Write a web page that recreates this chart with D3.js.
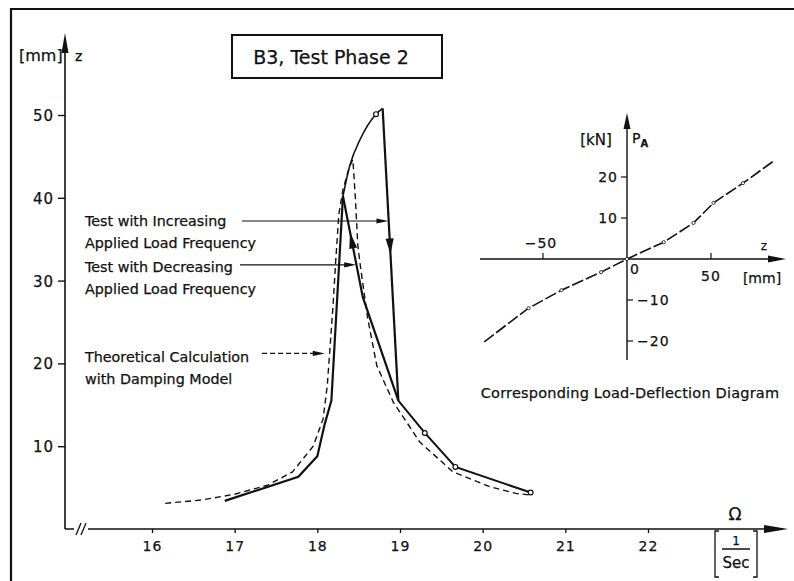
<!DOCTYPE html>
<html>
<head>
<meta charset="utf-8">
<script src="https://cdn.jsdelivr.net/npm/d3@7"></script>
<style>
  body { margin: 0; background: #fff; }
  svg { display: block; }
  text { font-family: "DejaVu Sans", sans-serif; fill: #111; stroke: #111; stroke-width: 0.25; }
</style>
</head>
<body>
<svg id="chart" width="794" height="581"></svg>
<script>
// main diagram: response amplitude z [mm] vs. excitation frequency Omega [1/s]
const xTicks = [16, 17, 18, 19, 20, 21, 22];
const yTicks = [10, 20, 30, 40, 50];

// solid test curve, rising branch below the 40 mm peak
const leftOmega = [16.88, 17.77, 18.0, 18.09, 18.17, 18.31];
const leftZ     = [3.4, 6.3, 8.8, 12.7, 15.5, 40.2];
// upper arc up to the 51 mm peak
const arcOmega = [18.31, 18.39, 18.52, 18.71, 18.79];
const arcZ     = [40.2, 43.8, 47.1, 50.1, 50.8];
// jump down (increasing frequency)
const jumpOmega = [18.79, 18.98];
const jumpZ     = [50.8, 15.5];
// middle branch (decreasing frequency)
const midOmega = [18.31, 18.55, 18.98];
const midZ     = [40.2, 28.0, 15.5];
// falling tail
const tailOmega = [18.98, 19.3, 19.67, 20.58];
const tailZ     = [15.5, 11.6, 7.5, 4.4];
const markOmega = [18.71, 19.3, 19.67, 20.58];
const markZ     = [50.1, 11.6, 7.5, 4.4];

// theoretical calculation with damping model (dashed)
const thOmega = [16.16, 16.6, 17.0, 17.4, 17.7, 17.95, 18.07, 18.12, 18.15, 18.19, 18.22, 18.26, 18.31, 18.39, 18.43,
                 18.46, 18.49, 18.52, 18.61, 18.72, 18.92, 19.24, 19.64, 20.09, 20.4, 20.58];
const thZ     = [3.1, 3.5, 4.2, 5.3, 6.9, 10.0, 13.3, 17.3, 21.4, 27.0, 32.0, 38.0, 41.0, 43.8, 44.6,
                 40.0, 34.2, 31.8, 25.4, 19.7, 15.3, 10.5, 6.9, 5.1, 4.3, 4.1];

// inset: load-deflection diagram, P_A [kN] vs z [mm]
const insetXTicks = [-50, 50];
const insetYTicks = [-20, -10, 10, 20];
const ldZ = [-85, -58.6, -39, -15.4, 0, 21.9, 39.6, 51.5, 69, 88];
const ldP = [-20.2, -12, -7.6, -3.2, 0, 4.1, 8.8, 13.7, 18.5, 24.1];

const svg = d3.select('#chart');
const ink = '#111';

const x = d3.scaleLinear().domain([16, 22]).range([152, 648]);
const y = d3.scaleLinear().domain([0, 50]).range([529, 115]);
const xi = d3.scaleLinear().domain([-50, 50]).range([543, 711]);
const yi = d3.scaleLinear().domain([-20, 20]).range([341, 177]);

const zip = (a, b) => a.map((v, i) => [v, b[i]]);
const line = d3.line().x(d => x(d[0])).y(d => y(d[1]));
const lineI = d3.line().x(d => xi(d[0])).y(d => yi(d[1]));

// frame
svg.append('path').attr('d', 'M11,581 V9 H794')
  .attr('fill', 'none').attr('stroke', ink).attr('stroke-width', 2.2);

function arrowHead(g, tipX, tipY, angle, len, half) {
  // angle: direction the arrow points (radians)
  const c = Math.cos(angle), s = Math.sin(angle);
  const bx = tipX - c * len, by = tipY - s * len;
  g.append('path')
    .attr('d', `M${tipX},${tipY} L${bx - s * half},${by + c * half} L${bx + s * half},${by - c * half} Z`)
    .attr('fill', ink);
}

// ---- main axes ----
const x0 = 65, yAxis = y(0);
const axes = svg.append('g');
axes.append('path').attr('d', `M${x0},${yAxis} V40 M${x0},${yAxis} H74 M88,${yAxis} H770`)
  .attr('fill', 'none').attr('stroke', ink).attr('stroke-width', 1.6);
// axis break
axes.append('path').attr('d', `M76,${yAxis + 6} L81,${yAxis - 6} M81,${yAxis + 6} L86,${yAxis - 6}`)
  .attr('stroke', ink).attr('stroke-width', 1.3);
arrowHead(axes, x0, 33, -Math.PI / 2, 20, 3.5);
arrowHead(axes, 788, yAxis, 0, 24, 4);

const yAx = svg.append('g').attr('transform', `translate(${x0},0)`)
  .call(d3.axisLeft(y).tickValues(yTicks).tickSize(7).tickPadding(4));
yAx.select('.domain').remove();
yAx.selectAll('line').attr('stroke', ink).attr('stroke-width', 1.4);
yAx.selectAll('text').attr('font-size', 15).attr('letter-spacing', 1).attr('dy', '0.36em')
  .attr('font-family', '"DejaVu Sans", sans-serif').attr('fill', ink);

const xAx = svg.append('g').attr('transform', `translate(0,${yAxis})`)
  .call(d3.axisBottom(x).tickValues(xTicks).tickFormat(d3.format('d')).tickSize(4).tickPadding(8));
xAx.select('.domain').remove();
xAx.selectAll('line').attr('stroke', ink).attr('stroke-width', 1.3);
xAx.selectAll('text').attr('font-size', 14).attr('letter-spacing', 1)
  .attr('font-family', '"DejaVu Sans", sans-serif').attr('fill', ink);

// axis labels
svg.append('text').attr('x', 19).attr('y', 61).attr('font-size', 16).text('[mm]');
svg.append('text').attr('x', 75).attr('y', 61).attr('font-size', 14).text('z');
svg.append('text').attr('x', 735).attr('y', 520).attr('font-size', 17).attr('text-anchor', 'middle').text('Ω');
svg.append('path').attr('d', 'M719,531 h-4 v46 h4 M753,531 h4 v46 h-4 M722,549 h28')
  .attr('fill', 'none').attr('stroke', ink).attr('stroke-width', 1.3);
svg.append('text').attr('x', 736).attr('y', 545).attr('font-size', 12).attr('text-anchor', 'middle').text('1');
svg.append('text').attr('x', 736).attr('y', 568).attr('font-size', 15).attr('text-anchor', 'middle').text('Sec');

// title box
svg.append('rect').attr('x', 232).attr('y', 35).attr('width', 210).attr('height', 43)
  .attr('fill', 'none').attr('stroke', ink).attr('stroke-width', 2);
svg.append('text').attr('x', 331).attr('y', 64).attr('font-size', 19).attr('text-anchor', 'middle')
  .text('B3, Test Phase 2');

// ---- curves ----
const curves = svg.append('g').attr('fill', 'none').attr('stroke', ink);
curves.append('path').attr('d', line(zip(thOmega, thZ)))
  .attr('stroke-width', 1.4).attr('stroke-dasharray', '6,4');
curves.append('path').attr('d', line(zip(leftOmega, leftZ))).attr('stroke-width', 2.2);
curves.append('path').attr('d', d3.line().curve(d3.curveMonotoneX).x(d => x(d[0])).y(d => y(d[1]))(zip(arcOmega, arcZ)))
  .attr('stroke-width', 1.6);
curves.append('path').attr('d', line(zip(jumpOmega, jumpZ))).attr('stroke-width', 2.2);
curves.append('path').attr('d', line(zip(midOmega, midZ))).attr('stroke-width', 2.2);
curves.append('path').attr('d', line(zip(tailOmega, tailZ))).attr('stroke-width', 2.0);

svg.append('g').selectAll('circle').data(zip(markOmega, markZ)).join('circle')
  .attr('cx', d => x(d[0])).attr('cy', d => y(d[1])).attr('r', 2.4)
  .attr('fill', '#fff').attr('stroke', ink).attr('stroke-width', 1.2);

// direction arrows on the curves
function segArrow(om, zz, i, t) {
  const ax = x(om[i]) + (x(om[i + 1]) - x(om[i])) * t;
  const ay = y(zz[i]) + (y(zz[i + 1]) - y(zz[i])) * t;
  const ang = Math.atan2(y(zz[i + 1]) - y(zz[i]), x(om[i + 1]) - x(om[i]));
  return [ax, ay, ang];
}
let a = segArrow(jumpOmega, jumpZ, 0, 0.5);
arrowHead(svg, a[0], a[1], a[2], 16, 4);
a = segArrow(midOmega, midZ, 0, 0.36);
arrowHead(svg, a[0], a[1], a[2] + Math.PI, 16, 4);

// ---- annotations ----
const notes = [
  ['Test with Increasing', 226], ['Applied Load Frequency', 248],
  ['Test with Decreasing', 272], ['Applied Load Frequency', 294],
  ['Theoretical Calculation', 362], ['with Damping Model', 384]
];
svg.append('g').selectAll('text').data(notes).join('text')
  .attr('x', 85).attr('y', d => d[1]).attr('font-size', 14.3).text(d => d[0]);

function leader(x1, yv, tipOmega, dashed) {
  const yy = y(yv), tx = x(tipOmega);
  svg.append('path').attr('d', `M${x1},${yy} H${tx - 8}`).attr('stroke', ink).attr('stroke-width', 1.2)
    .attr('stroke-dasharray', dashed ? '5,3' : null);
  arrowHead(svg, tx, yy, 0, 12, 2.6);
}
leader(242, 37.2, 18.86, false);
leader(240, 31.9, 18.47, false);
leader(262, 21.2, 18.09, true);

// ---- inset load-deflection diagram ----
const ins = svg.append('g');
const ix0 = xi(0), iy0 = yi(0);
ins.append('path').attr('d', `M480,${iy0} H770 M${ix0},360 V125`)
  .attr('fill', 'none').attr('stroke', ink).attr('stroke-width', 1.4);
arrowHead(ins, 786, iy0, 0, 18, 3.5);
arrowHead(ins, ix0, 113, -Math.PI / 2, 16, 3.5);

ins.selectAll('.ty').data(insetYTicks).join('line')
  .attr('x1', d => d > 0 ? ix0 - 6 : ix0).attr('x2', d => d > 0 ? ix0 : ix0 + 6)
  .attr('y1', d => yi(d)).attr('y2', d => yi(d)).attr('stroke', ink).attr('stroke-width', 1.2);
ins.selectAll('.tyl').data(insetYTicks).join('text')
  .attr('x', d => d > 0 ? ix0 - 9 : ix0 + 10).attr('y', d => yi(d)).attr('dy', '0.36em')
  .attr('text-anchor', d => d > 0 ? 'end' : 'start').attr('font-size', 14).attr('letter-spacing', 1)
  .text(d => d > 0 ? d : '\u2212' + Math.abs(d));
ins.selectAll('.tx').data(insetXTicks).join('line')
  .attr('x1', d => xi(d)).attr('x2', d => xi(d)).attr('y1', iy0 - 6).attr('y2', iy0)
  .attr('stroke', ink).attr('stroke-width', 1.2);
ins.selectAll('.txl').data(insetXTicks).join('text')
  .attr('x', d => xi(d) - (d < 0 ? 2 : 0)).attr('y', d => d < 0 ? iy0 - 11 : iy0 + 22)
  .attr('text-anchor', 'middle').attr('font-size', 14).attr('letter-spacing', 1)
  .text(d => d < 0 ? '\u2212' + Math.abs(d) : d);
ins.append('text').attr('x', ix0 + 3).attr('y', iy0 + 15).attr('font-size', 14).text('0');
ins.append('text').attr('x', 764).attr('y', 250).attr('font-size', 12).attr('text-anchor', 'middle').text('z');
ins.append('text').attr('x', 762).attr('y', 283).attr('font-size', 14).attr('text-anchor', 'middle').text('[mm]');
ins.append('text').attr('x', 596).attr('y', 145).attr('font-size', 15).attr('text-anchor', 'middle').text('[kN]');
const pa = ins.append('text').attr('x', 632).attr('y', 143).attr('font-size', 14);
pa.append('tspan').text('P');
pa.append('tspan').attr('font-size', 10).attr('dy', 4).attr('font-weight', 'bold').text('A');

ins.append('path').attr('d', lineI(zip(ldZ, ldP)))
  .attr('fill', 'none').attr('stroke', ink).attr('stroke-width', 1.6).attr('stroke-dasharray', '12,3');
ins.selectAll('.ldm').data(zip(ldZ, ldP).slice(1, -1)).join('circle')
  .attr('cx', d => xi(d[0])).attr('cy', d => yi(d[1])).attr('r', 1.6)
  .attr('fill', '#fff').attr('stroke', ink).attr('stroke-width', 0.8);

ins.append('text').attr('x', 630).attr('y', 398).attr('font-size', 14.5).attr('text-anchor', 'middle')
  .attr('letter-spacing', 0.2).text('Corresponding Load-Deflection Diagram');
</script>
</body>
</html>
